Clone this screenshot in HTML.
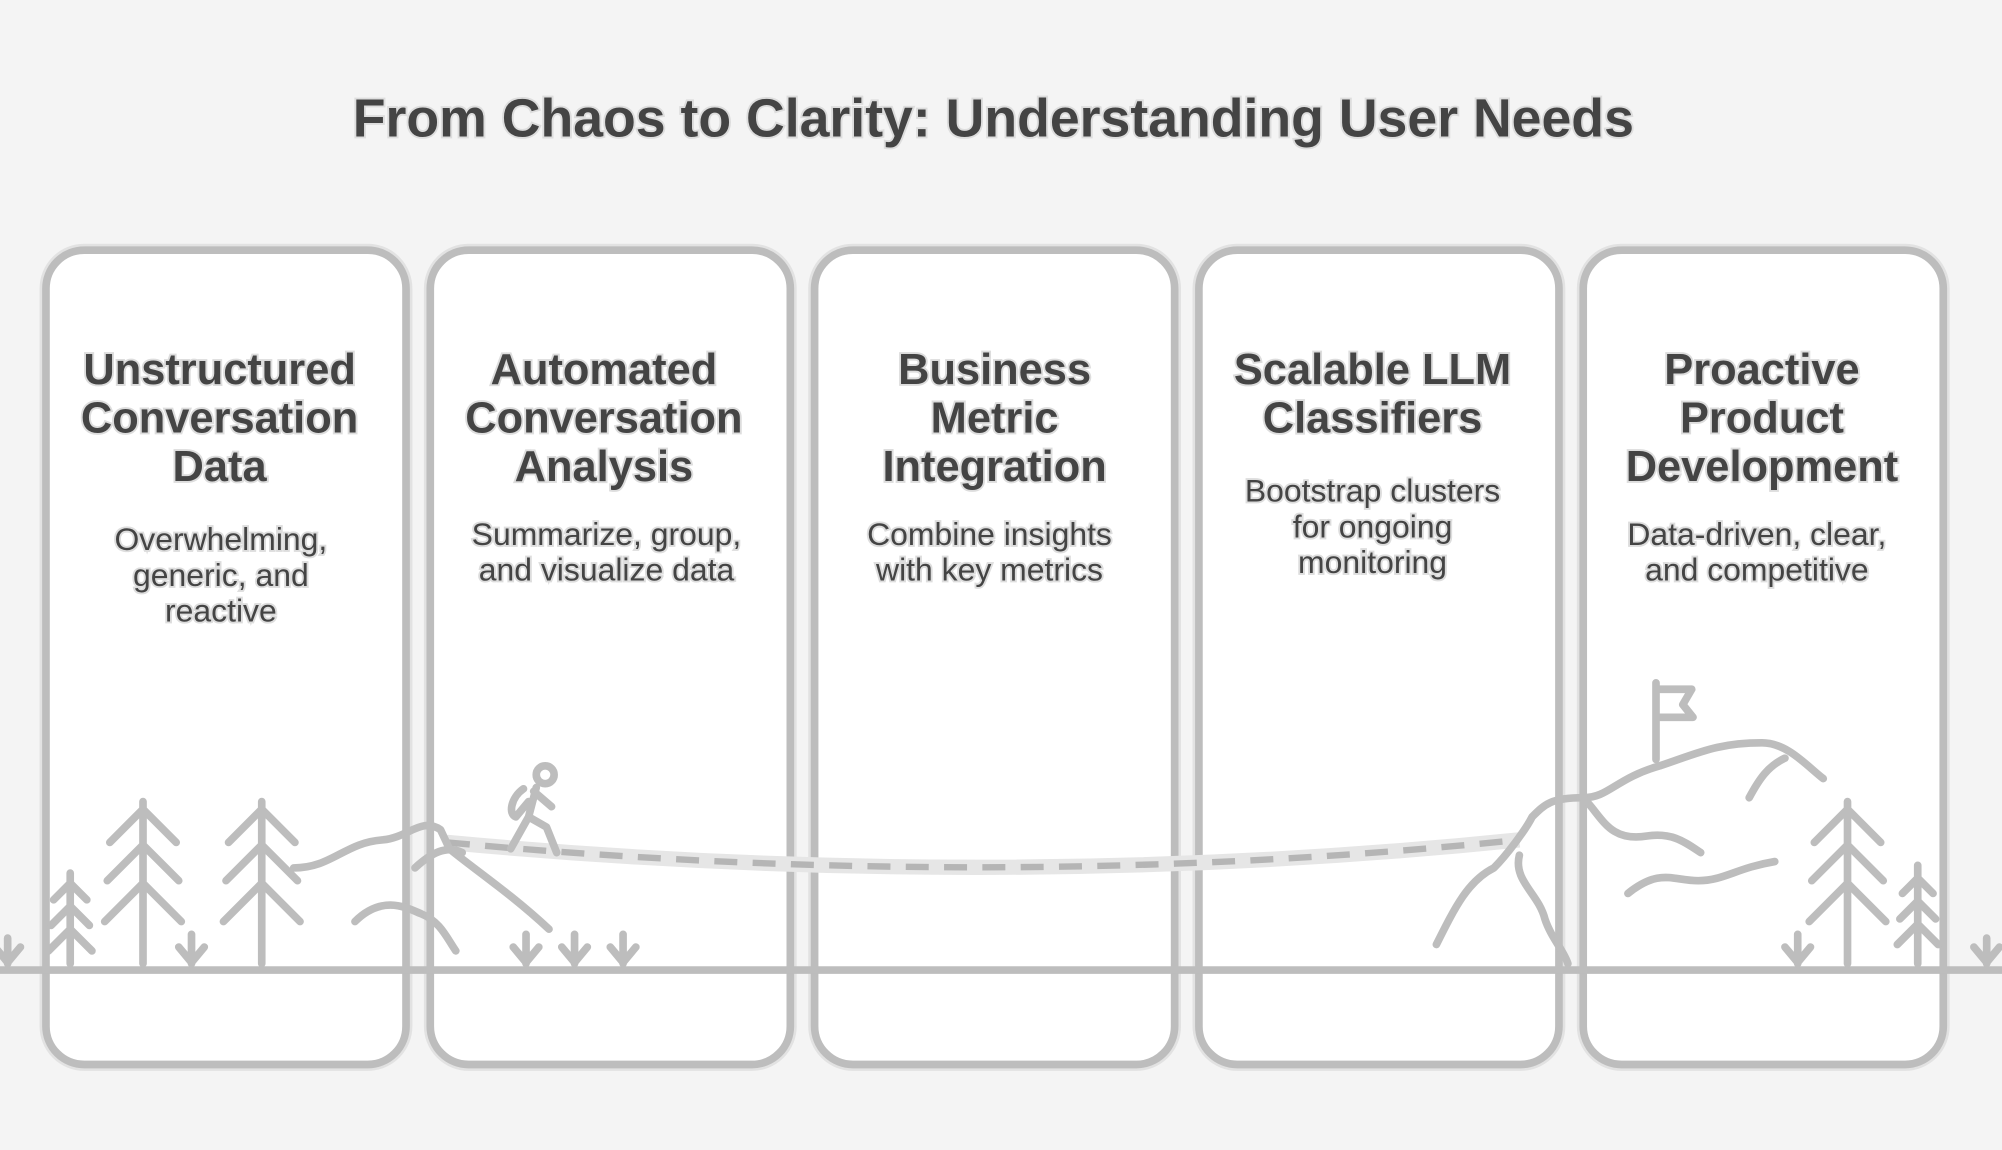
<!DOCTYPE html>
<html><head><meta charset="utf-8"><style>
html,body{margin:0;padding:0;background:#f4f4f4;}
svg{display:block}
text{font-family:"Liberation Sans",sans-serif;fill:#444;stroke:#ddd;stroke-width:3px;paint-order:stroke;text-anchor:middle}
.h{font-weight:bold;font-size:34px}
.d{font-size:25px}
.t{font-weight:bold;font-size:42px}
.ln{fill:none;stroke:#bdbdbd;stroke-width:6;stroke-linecap:round;stroke-linejoin:round}
</style></head><body>
<svg width="2002" height="1150" viewBox="0 0 1568 901" preserveAspectRatio="none">
<rect width="1568" height="901" fill="#f4f4f4"/>
<text class="t" x="778" y="107">From Chaos to Clarity: Understanding User Needs</text>
<g fill="#fff" stroke="#bdbdbd" stroke-width="6">
<rect x="36" y="196" width="282" height="638" rx="30" stroke="#e2e2e2" stroke-width="10"/>
<rect x="36" y="196" width="282" height="638" rx="30"/>
<rect x="337" y="196" width="282" height="638" rx="30" stroke="#e2e2e2" stroke-width="10"/>
<rect x="337" y="196" width="282" height="638" rx="30"/>
<rect x="638" y="196" width="282" height="638" rx="30" stroke="#e2e2e2" stroke-width="10"/>
<rect x="638" y="196" width="282" height="638" rx="30"/>
<rect x="939" y="196" width="282" height="638" rx="30" stroke="#e2e2e2" stroke-width="10"/>
<rect x="939" y="196" width="282" height="638" rx="30"/>
<rect x="1240" y="196" width="282" height="638" rx="30" stroke="#e2e2e2" stroke-width="10"/>
<rect x="1240" y="196" width="282" height="638" rx="30"/>
</g>
<text class="h" x="172" y="301">Unstructured</text><text class="h" x="172" y="339">Conversation</text><text class="h" x="172" y="377">Data</text>
<text class="h" x="473" y="301">Automated</text><text class="h" x="473" y="339">Conversation</text><text class="h" x="473" y="377">Analysis</text>
<text class="h" x="779" y="301">Business</text><text class="h" x="779" y="339">Metric</text><text class="h" x="779" y="377">Integration</text>
<text class="h" x="1075" y="301">Scalable LLM</text><text class="h" x="1075" y="339">Classifiers</text>
<text class="h" x="1380" y="301">Proactive</text><text class="h" x="1380" y="339">Product</text><text class="h" x="1380" y="377">Development</text>
<text class="d" x="173" y="431">Overwhelming,</text><text class="d" x="173" y="459">generic, and</text><text class="d" x="173" y="487">reactive</text>
<text class="d" x="475" y="427">Summarize, group,</text><text class="d" x="475" y="455">and visualize data</text>
<text class="d" x="775" y="427">Combine insights</text><text class="d" x="775" y="455">with key metrics</text>
<text class="d" x="1075" y="393">Bootstrap clusters</text><text class="d" x="1075" y="421">for ongoing</text><text class="d" x="1075" y="449">monitoring</text>
<text class="d" x="1376" y="427">Data-driven, clear,</text><text class="d" x="1376" y="455">and competitive</text>
<path d="M350 660 Q780 700 1190 658" fill="none" stroke="#e6e6e6" stroke-width="12"/>
<path d="M350 660 Q780 700 1190 658" fill="none" stroke="#b5b5b5" stroke-width="5" stroke-dasharray="18 12"/>
<g class="ln">
<line x1="0" y1="760" x2="1568" y2="760"/>
<path d="M112 628V755M86 660l26-26 26 26M84 690l28-28 28 28M82 722l30-30 30 30"/>
<path d="M205 628V755M179 660l26-26 26 26M177 690l28-28 28 28M175 722l30-30 30 30"/>
<path d="M55 684V755M42 705l13-13 13 13M40 725l15-15 15 15M38 745l17-17 17 17"/>
<path d="M1447 628V755M1421 660l26-26 26 26M1419 690l28-28 28 28M1417 722l30-30 30 30"/>
<path d="M1502 678V755M1490 700l12-12 12 12M1488 720l14-14 14 14M1486 740l16-16 16 16"/>
<path d="M150 755V732M140 742l10 12 10-12"/>
<path d="M412 755V732M402 742l10 12 10-12"/>
<path d="M450 755V732M440 742l10 12 10-12"/>
<path d="M488 755V732M478 742l10 12 10-12"/>
<path d="M1408 755V732M1398 742l10 12 10-12"/>
<path d="M6 755V735M-4 742l10 12 10-12"/>
<path d="M1556 755V735M1546 742l10 12 10-12"/>
<path d="M230 680C260 680 270 660 300 658C320 656 330 640 345 650L352 665C370 680 400 700 430 728"/>
<path d="M278 722C300 700 320 712 330 716C345 722 350 735 357 745"/>
<path d="M325 680C338 668 350 662 362 668"/>
<circle cx="427" cy="607" r="7"/>
<path d="M420 617L414 640L400 665M414 640L428 648L436 668M418 620L432 632M410 618C400 625 398 638 404 640L414 628"/>
<path d="M1125 740C1140 710 1150 690 1170 680C1180 670 1195 650 1200 640C1210 630 1215 625 1240 625C1260 625 1265 610 1300 600C1330 590 1345 582 1380 582C1400 582 1415 600 1428 610"/>
<path d="M1190 670C1185 690 1205 700 1210 720C1215 735 1225 745 1228 755"/>
<path d="M1240 625C1255 640 1260 660 1290 655C1310 652 1320 660 1332 668"/>
<path d="M1275 700C1300 680 1310 690 1330 690C1350 690 1360 680 1390 675"/>
<path d="M1370 625C1378 610 1385 600 1398 594"/>
<path d="M1297 595V535M1297 540H1325L1318 552L1326 562H1297"/>
</g>
</svg>
</body></html>
